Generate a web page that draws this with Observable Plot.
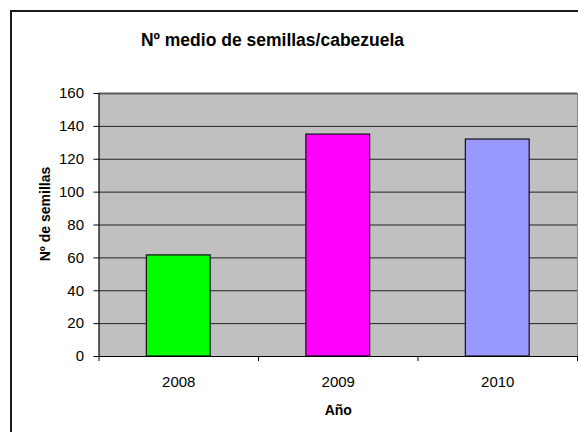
<!DOCTYPE html>
<html>
<head>
<meta charset="utf-8">
<script src="https://cdn.jsdelivr.net/npm/d3@7"></script>
<script src="https://cdn.jsdelivr.net/npm/@observablehq/plot@0.6"></script>
<style>
  html, body { margin: 0; padding: 0; background: #fff; overflow: hidden; }
  #wrap { position: relative; width: 578px; height: 432px; overflow: hidden; }
  #border { position: absolute; left: 10px; top: 10px; width: 620px; height: 520px; border: 2px solid #1a1a1a; pointer-events: none; }
  svg { font-family: "Liberation Sans", Arial, sans-serif; }
</style>
</head>
<body>
<div id="wrap"><div id="border"></div></div>
<script>
const title = "Nº medio de semillas/cabezuela";
const xTitle = "Año";
const yTitle = "Nº de semillas";
const years = ["2008", "2009", "2010"];
const values = [61.5, 135, 132];
const colors = ["#00FF00", "#FF00FF", "#9999FF"];
const yTicks = [0, 20, 40, 60, 80, 100, 120, 140, 160];
const gridTicks = [20, 40, 60, 80, 100, 120, 140];

const data = years.map((y, k) => ({i: k + 1, year: y, value: values[k], color: colors[k]}));
const boundaries = d3.range(0, years.length + 1).map(k => k + 0.5);
const centers = data.map(d => d.i);

const chart = Plot.plot({
  width: 578,
  height: 432,
  marginLeft: 98.5,
  marginRight: 1,
  marginTop: 93,
  marginBottom: 76,
  style: {fontFamily: '"Liberation Sans", Arial, sans-serif', background: "transparent", overflow: "visible"},
  x: {type: "linear", domain: [0.5, years.length + 0.5], axis: null},
  y: {domain: [0, 160], axis: null},
  marks: [
    Plot.frame({fill: "#C0C0C0", stroke: null}),
    Plot.ruleX([boundaries[boundaries.length - 1]], {stroke: "#888", strokeWidth: 1}),
    Plot.ruleY(gridTicks, {stroke: "#222", strokeWidth: 1}),
    Plot.ruleY([160], {stroke: "#5a5a5a", strokeWidth: 2}),
    Plot.rectY(data, {x1: d => d.i - 0.2, x2: d => d.i + 0.2, y: "value", fill: "color", stroke: "#111", strokeWidth: 1.2}),
    Plot.ruleX([0.5], {stroke: "#000", strokeWidth: 1.2}),
    Plot.ruleY([0], {stroke: "#000", strokeWidth: 1.2}),
    Plot.axisY({ticks: yTicks, tickSize: 5, tickPadding: 10, fontSize: 15, label: null, stroke: "#000", color: "#000"}),
    Plot.axisX({ticks: boundaries, tickSize: 5, tickFormat: () => "", label: null, stroke: "#000"}),
    Plot.axisX({ticks: centers, tickSize: 0, tickPadding: 20, tickFormat: i => years[i - 1], fontSize: 15, label: null, color: "#000"}),
    Plot.text([title], {frameAnchor: "top-left", dx: 173.5, dy: -48, lineAnchor: "bottom", textAnchor: "middle", fontSize: 17.5, fontWeight: "bold", fill: "#000"}),
    Plot.text([xTitle], {frameAnchor: "bottom", dy: 58, lineAnchor: "bottom", fontSize: 14, fontWeight: "bold", fill: "#000"}),
    Plot.text([yTitle], {frameAnchor: "left", dx: -53.5, dy: -11, rotate: -90, textAnchor: "middle", fontSize: 14, fontWeight: "bold", fill: "#000"})
  ]
});
document.getElementById("wrap").prepend(chart);
</script>
</body>
</html>
